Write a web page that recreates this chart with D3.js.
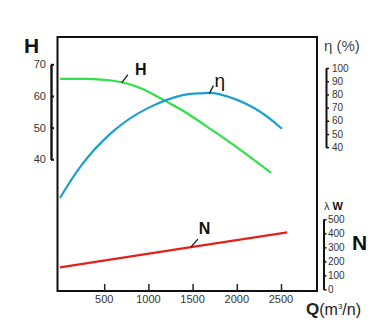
<!DOCTYPE html>
<html><head><meta charset="utf-8">
<script src="https://cdn.jsdelivr.net/npm/d3@7"></script>
<style>body{margin:0;background:#fff}svg{display:block}text{font-family:"Liberation Sans",Arial,sans-serif}</style>
</head><body>
<svg id="c" width="387" height="334"></svg>
<script>
// Data (Q in m3/h)
const qTicks = [500, 1000, 1500, 2000, 2500];
const hTicks = [40, 50, 60, 70];
const etaTicks = [40, 50, 60, 70, 80, 90, 100];
const nTicks = [0, 100, 200, 300, 400, 500];
const hQ   = [0, 300, 600, 900, 1180, 1410, 1700, 2040, 2390];
const hVal = [65.4, 65.4, 64.8, 62.6, 58.6, 55.0, 49.6, 43.0, 35.7];
const etaQ   = [0, 250, 600, 1000, 1400, 1600, 1800, 2200, 2510];
const etaVal = [1.5, 27, 52, 69.8, 79.6, 80.8, 80.2, 69.5, 54];
const nQ   = [0, 1500, 2570];
const nVal = [157, 303, 407];

const svg = d3.select("#c");
const L = 57.5, T = 37, R = 317, B = 291;

const x = d3.scaleLinear().domain([0, 2500]).range([60, 281]);
const yH = d3.scaleLinear().domain([40, 70]).range([159.3, 64.3]);
const yE = d3.scaleLinear().domain([40, 100]).range([147.2, 68]);
const yN = d3.scaleLinear().domain([0, 500]).range([289.3, 219.3]);

// frame
svg.append("rect").attr("x", L).attr("y", T).attr("width", R - L).attr("height", B - T)
  .attr("fill", "none").attr("stroke", "#111").attr("stroke-width", 2);

// x ticks (inside, upward)
const xg = svg.append("g").attr("transform", `translate(0,${B})`)
  .call(d3.axisTop(x).tickValues(qTicks).tickSize(7).tickFormat(""));
xg.select(".domain").remove();
xg.selectAll("line").attr("stroke", "#222").attr("stroke-width", 1.5);
svg.selectAll(".xl").data(qTicks).enter().append("text")
  .attr("x", d => x(d)).attr("y", 303).attr("text-anchor", "middle")
  .attr("font-size", 11).attr("fill", "#333").text(d => d);

// H axis (left)
const hg = svg.append("g").attr("transform", "translate(51,0)")
  .call(d3.axisRight(yH).tickValues(hTicks).tickSize(3).tickSizeOuter(0).tickFormat(""));
hg.select(".domain").attr("stroke", "#111").attr("stroke-width", 2.4);
hg.selectAll("line").attr("stroke", "#111").attr("stroke-width", 2);
svg.selectAll(".hl").data(hTicks).enter().append("text")
  .attr("x", 46).attr("y", d => yH(d) + 4).attr("text-anchor", "end")
  .attr("font-size", 11).attr("fill", "#333").text(d => d);
svg.append("text").attr("x", 24).attr("y", 53).attr("font-size", 21).attr("font-weight", "bold")
  .attr("fill", "#111").text("H");

// eta axis (right top)
const eg = svg.append("g").attr("transform", "translate(326,0)")
  .call(d3.axisRight(yE).tickValues(etaTicks).tickSize(3).tickSizeOuter(0).tickFormat(""));
eg.select(".domain").attr("stroke", "#111").attr("stroke-width", 2);
eg.selectAll("line").attr("stroke", "#111").attr("stroke-width", 1.5);
svg.selectAll(".el").data(etaTicks).enter().append("text")
  .attr("x", 332).attr("y", d => yE(d) + 3.5)
  .attr("font-size", 10).attr("fill", "#333").text(d => d);
svg.append("text").attr("x", 324).attr("y", 51).attr("font-size", 15).attr("fill", "#444")
  .text("η (%)");

// N axis (right bottom)
const ng = svg.append("g").attr("transform", "translate(323.5,0)")
  .call(d3.axisRight(yN).tickValues(nTicks).tickSize(3).tickSizeOuter(0).tickFormat(""));
ng.select(".domain").attr("stroke", "#111").attr("stroke-width", 2);
ng.selectAll("line").attr("stroke", "#111").attr("stroke-width", 1.5);
svg.selectAll(".nl").data(nTicks).enter().append("text")
  .attr("x", 328).attr("y", d => yN(d) + 3.5)
  .attr("font-size", 10).attr("fill", "#333").text(d => d);
const lw = svg.append("text").attr("x", 324).attr("y", 210).attr("font-size", 11).attr("fill", "#333");
lw.append("tspan").text("λ ");
lw.append("tspan").attr("font-weight", "bold").attr("fill", "#111").text("W");
svg.append("text").attr("x", 352).attr("y", 250).attr("font-size", 21).attr("font-weight", "bold")
  .attr("fill", "#111").text("N");

// Q label
const ql = svg.append("text").attr("x", 306).attr("y", 315).attr("fill", "#222");
ql.append("tspan").attr("font-size", 17).attr("font-weight", "bold").text("Q");
ql.append("tspan").attr("font-size", 16).text("(m");
ql.append("tspan").attr("font-size", 8).attr("dy", -6).text("3");
ql.append("tspan").attr("font-size", 16).attr("dy", 6).text("/n)");

// curves
const mk = (qs, vs, ys) => d3.line().curve(d3.curveNatural)
  .x((d, i) => x(qs[i])).y((d, i) => ys(vs[i]))(qs);
svg.append("path").attr("d", mk(hQ, hVal, yH)).attr("fill", "none")
  .attr("stroke", "#2ee04a").attr("stroke-width", 2.2);
svg.append("path").attr("d", mk(etaQ, etaVal, yE)).attr("fill", "none")
  .attr("stroke", "#1a9fd0").attr("stroke-width", 2.2);
svg.append("path").attr("d", mk(nQ, nVal, yN)).attr("fill", "none")
  .attr("stroke", "#e5201c").attr("stroke-width", 2.2);

// curve labels with leaders
function label(q, v, ys, dx1, dy1, tx, ty, txt, size, bold) {
  const px = x(q), py = ys(v);
  svg.append("line").attr("x1", px).attr("y1", py).attr("x2", px + dx1).attr("y2", py + dy1)
    .attr("stroke", "#111").attr("stroke-width", 1.3);
  svg.append("text").attr("x", px + tx).attr("y", py + ty).attr("font-size", size)
    .attr("font-weight", bold ? "bold" : "normal").attr("fill", "#111").text(txt);
}
label(700, 64.2, yH, 6, -8, 13, -8, "H", 16, true);
label(1690, 80.7, yE, 4, -8, 5, -6, "η", 19, false);
label(1480, 301, yN, 7, -8, 8, -13, "N", 16, true);
</script>
</body></html>
